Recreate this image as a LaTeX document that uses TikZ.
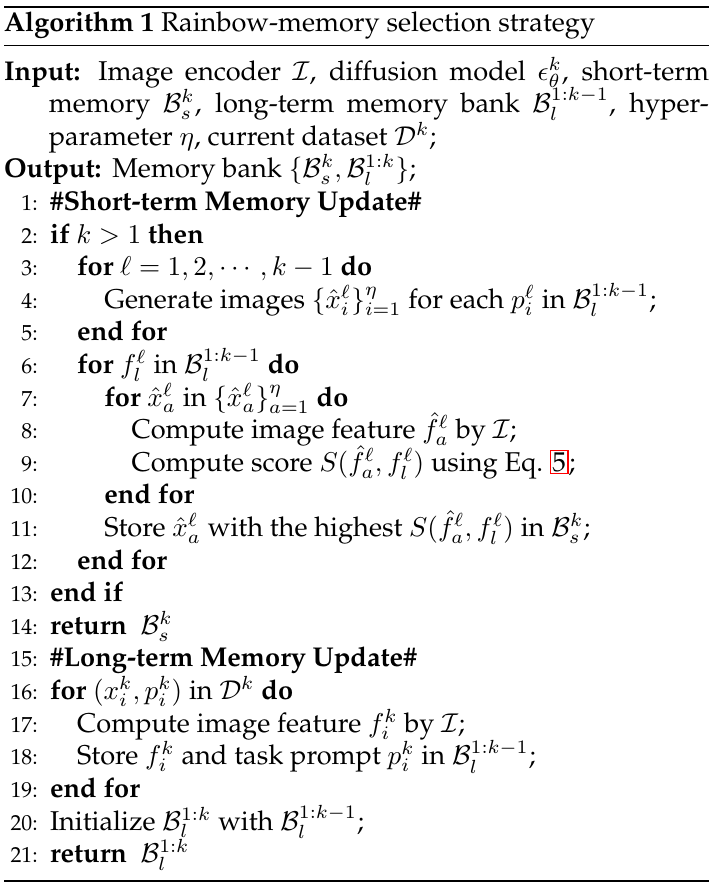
\documentclass[tikz,border=0pt]{standalone}
\usepackage[T1]{fontenc}
\renewcommand{\rmdefault}{ppl}
\usepackage{amsmath}
\newcommand{\algline}[3]{%
  \node[num] (n#1) at (13.9,{-(65.44+12*#1)}) {#1:};
  \node[txt] (l#1) at ({18.4+10*#2},{-(65.44+12*#1)}) {#3};}
\newcommand{\redlink}[1]{{\fboxsep=0.4pt\fboxrule=0.5pt\textcolor{red}{\fbox{\textcolor{black}{#1}}}}}
\begin{document}
\begin{tikzpicture}[x=1pt,y=1pt,
  txt/.style={anchor=base west,inner sep=0pt,outer sep=0pt,font=\normalsize},
  num/.style={anchor=base east,inner sep=0pt,outer sep=0pt,font=\footnotesize},
  toprl/.style={line width=0.8pt,line cap=butt},
  midrl/.style={line width=0.4pt,line cap=butt},
  botrl/.style={line width=0.45pt,line cap=butt}]
\useasboundingbox (0,0) rectangle (263.5,-326.4);
% rules
\coordinate (tl) at (1.5,-2.47); \coordinate (tr) at (260.9,-2.47);
\coordinate (ml) at (1.5,-16.9); \coordinate (mr) at (260.9,-16.9);
\coordinate (bl) at (1.5,-324.2); \coordinate (br) at (260.9,-324.2);
\draw[toprl] (tl) -- (tr);
\draw[midrl] (ml) -- (mr);
\draw[botrl] (bl) -- (br);
% caption
\node[txt] (title) at (1.5,-11.63) {\textbf{Algorithm 1} Rainbow-memory selection strategy};
% input / output
\node[txt] (in1) at (1.5,-29.44) {\hbox to 259.4pt{\textbf{Input:} Image encoder $\mathcal{I}$, diffusion model $\epsilon_\theta^k$, short-term}};
\node[txt] (in2) at (18.0,-41.44) {\hbox to 242.9pt{memory $\mathcal{B}_s^k$, long-term memory bank $\mathcal{B}_l^{1:k-1}$, hyper-}};
\node[txt] (in3) at (18.0,-53.44) {parameter $\eta$, current dataset $\mathcal{D}^k$;};
\node[txt] (out) at (1.5,-65.44) {\textbf{Output:}\hskip 4pt Memory bank $\{\mathcal{B}_s^k,\mathcal{B}_l^{1:k}\}$;};
% lines
\algline{1}{0}{\textbf{\#Short-term Memory Update\#}}
\algline{2}{0}{\textbf{if} $k>1$ \textbf{then}}
\algline{3}{1}{\textbf{for} $\ell=1,2,\cdots,k-1$ \textbf{do}}
\algline{4}{2}{Generate images $\{\hat{x}_i^\ell\}_{i=1}^\eta$ for each $p_i^\ell$ in $\mathcal{B}_l^{1:k-1}$;}
\algline{5}{1}{\textbf{end for}}
\algline{6}{1}{\textbf{for} $f_l^\ell$ in $\mathcal{B}_l^{1:k-1}$ \textbf{do}}
\algline{7}{2}{\textbf{for} $\hat{x}_a^\ell$ in $\{\hat{x}_a^\ell\}_{a=1}^\eta$ \textbf{do}}
\algline{8}{3}{Compute image feature $\hat{f}_a^\ell$ by $\mathcal{I}$;}
\algline{9}{3}{Compute score $S(\hat{f}_a^\ell,f_l^\ell)$ using Eq.~\redlink{5};}
\algline{10}{2}{\textbf{end for}}
\algline{11}{2}{Store $\hat{x}_a^\ell$ with the highest $S(\hat{f}_a^\ell,f_l^\ell)$ in $\mathcal{B}_s^k$;}
\algline{12}{1}{\textbf{end for}}
\algline{13}{0}{\textbf{end if}}
\algline{14}{0}{\textbf{return}\ \ $\mathcal{B}_s^k$}
\algline{15}{0}{\textbf{\#Long-term Memory Update\#}}
\algline{16}{0}{\textbf{for} $(x_i^k,p_i^k)$ in $\mathcal{D}^k$ \textbf{do}}
\algline{17}{1}{Compute image feature $f_i^k$ by $\mathcal{I}$;}
\algline{18}{1}{Store $f_i^k$ and task prompt $p_i^k$ in $\mathcal{B}_l^{1:k-1}$;}
\algline{19}{0}{\textbf{end for}}
\algline{20}{0}{Initialize $\mathcal{B}_l^{1:k}$ with $\mathcal{B}_l^{1:k-1}$;}
\algline{21}{0}{\textbf{return}\ \ $\mathcal{B}_l^{1:k}$}
\end{tikzpicture}
\end{document}
